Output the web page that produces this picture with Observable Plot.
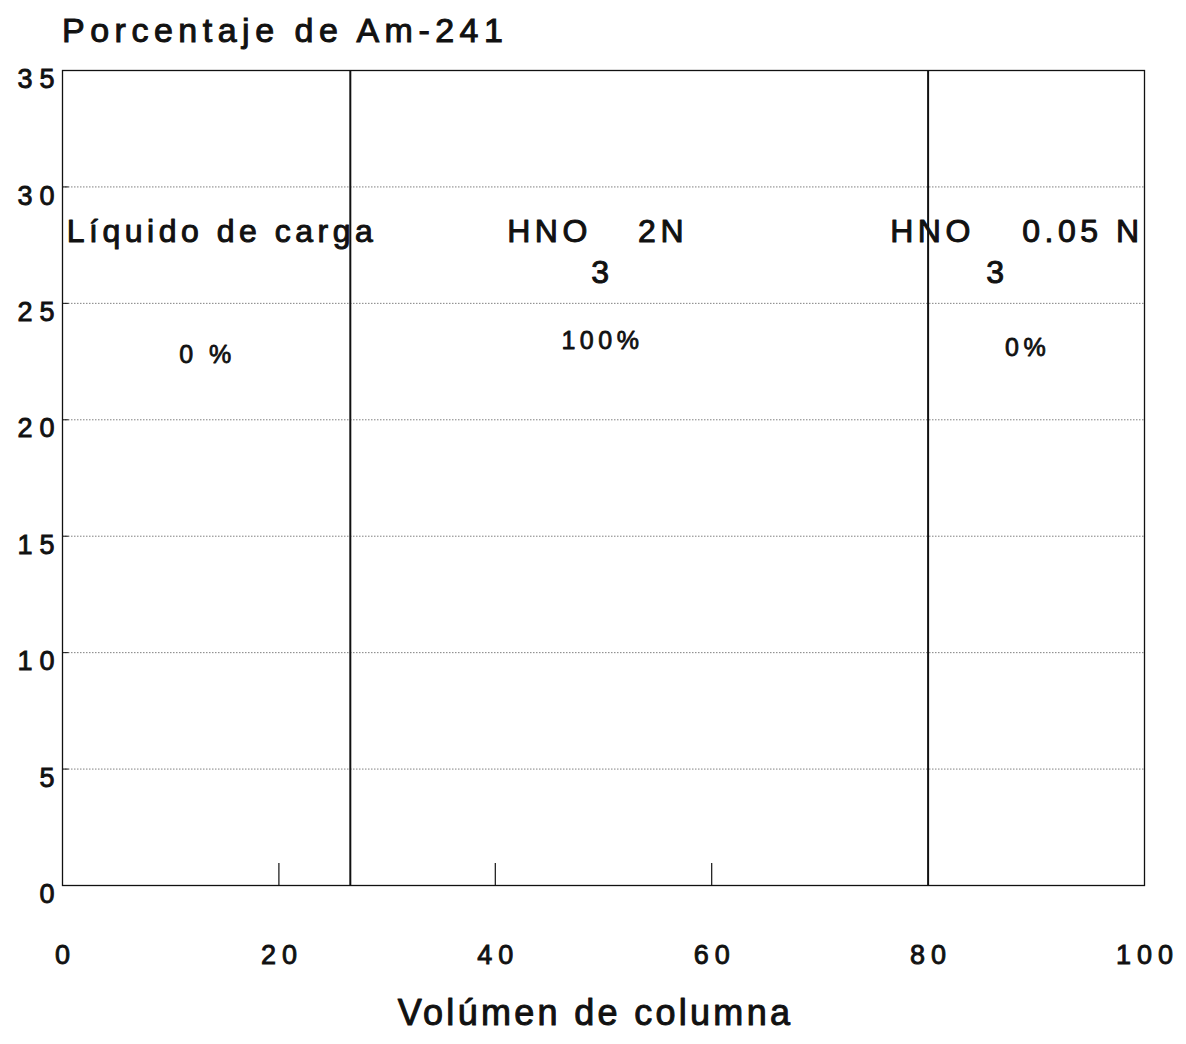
<!DOCTYPE html>
<html>
<head>
<meta charset="utf-8">
<script src="https://cdn.jsdelivr.net/npm/d3@7"></script>
<script src="https://cdn.jsdelivr.net/npm/@observablehq/plot@0.6"></script>
<style>
  body { margin: 0; background: #fff; font-family: "Liberation Sans", Arial, sans-serif; }
  #title { box-sizing: border-box; height: 60px; padding-top: 13px; padding-left: 62px; font-size: 34px; line-height: 34px; letter-spacing: 5.5px; color: #111; -webkit-text-stroke: 1px #111; }
  svg text { letter-spacing: 4.5px; }
  svg g[aria-label$="tick label"] text { letter-spacing: 6px; stroke: #111; stroke-width: 0.9px; }
  svg g[aria-label="y-axis tick label"] text { letter-spacing: 7px; }
</style>
</head>
<body>
<div id="title">Porcentaje de Am-241</div>
<div id="chart"></div>
<script>
// Axis ticks
const xTicks = [0, 20, 40, 60, 80, 100];
const yTicks = [0, 5, 10, 15, 20, 25, 30, 35];
const xTickMarks = [20, 40, 60];
// Boundaries between elution phases (column volumes)
const phaseBounds = [26.6, 80];
// Phase labels (data coordinates)
const phaseNames = ["Líquido de carga", "HNO", "2N", "HNO", "0.05 N"];
const phaseNameX = [0.4, 41.1, 53.2, 76.5, 88.7];
const phaseNameY = [28.08, 28.08, 28.08, 28.08, 28.08];
const subscripts = ["3", "3"];
const subscriptX = [49.9, 86.4];
const subscriptY = [26.3, 26.3];
// Percentages of Am-241 eluted in each phase
const pctLabels = ["0 %", "100%", "0%"];
const pctX = [13.4, 49.9, 89.2];
const pctY = [22.8, 23.4, 23.1];
const xLabel = "Volúmen de columna";

const names = phaseNames.map((t, i) => ({t, x: phaseNameX[i], y: phaseNameY[i]}));
const subs = subscripts.map((t, i) => ({t, x: subscriptX[i], y: subscriptY[i]}));
const pcts = pctLabels.map((t, i) => ({t, x: pctX[i], y: pctY[i]}));

const ink = "#111";
const chart = Plot.plot({
  width: 1186,
  height: 984,
  marginTop: 10,
  marginBottom: 159,
  marginLeft: 62,
  marginRight: 42,
  style: {fontFamily: "'Liberation Sans', Arial, sans-serif", color: ink, background: "white"},
  x: {domain: [0, 100]},
  y: {domain: [0, 35]},
  marks: [
    Plot.gridY(yTicks.filter(v => v > 0 && v < 35), {stroke: "#555", strokeOpacity: 0.75, strokeDasharray: "1.5,1.5", strokeWidth: 1}),
    Plot.ruleY(yTicks.filter(v => v > 0 && v < 35), {x1: 0, x2: 0.6, stroke: ink, strokeWidth: 1}),
    Plot.ruleX(xTickMarks, {y1: 0, y2: 0.95, stroke: ink, strokeWidth: 1.2}),
    Plot.ruleX(phaseBounds, {stroke: ink, strokeWidth: 2}),
    Plot.frame({stroke: ink, strokeWidth: 1.3}),
    Plot.axisX({ticks: xTicks, tickSize: 0, tickPadding: 59, fontSize: 27, dx: 3, tickFormat: d => String(d), label: null}),
    Plot.axisY({ticks: yTicks, tickSize: 0, tickPadding: 1, fontSize: 27, dy: 9, tickFormat: d => String(d), label: null}),
    Plot.text([xLabel], {frameAnchor: "bottom", dy: 139, dx: -8, fontSize: 36, fill: ink, stroke: ink, strokeWidth: 1}),
    Plot.text(names, {x: "x", y: "y", text: "t", textAnchor: "start", fontSize: 32, fill: ink, stroke: ink, strokeWidth: 1}),
    Plot.text(subs, {x: "x", y: "y", text: "t", textAnchor: "middle", fontSize: 32, fill: ink, stroke: ink, strokeWidth: 1}),
    Plot.text(pcts, {x: "x", y: "y", text: "t", textAnchor: "middle", fontSize: 25, fill: ink, stroke: ink, strokeWidth: 0.8})
  ]
});
d3.select(chart).selectAll("text").filter(function() { return this.textContent === xLabel; }).style("letter-spacing", "3.3px");
document.getElementById("chart").appendChild(chart);
</script>
</body>
</html>
